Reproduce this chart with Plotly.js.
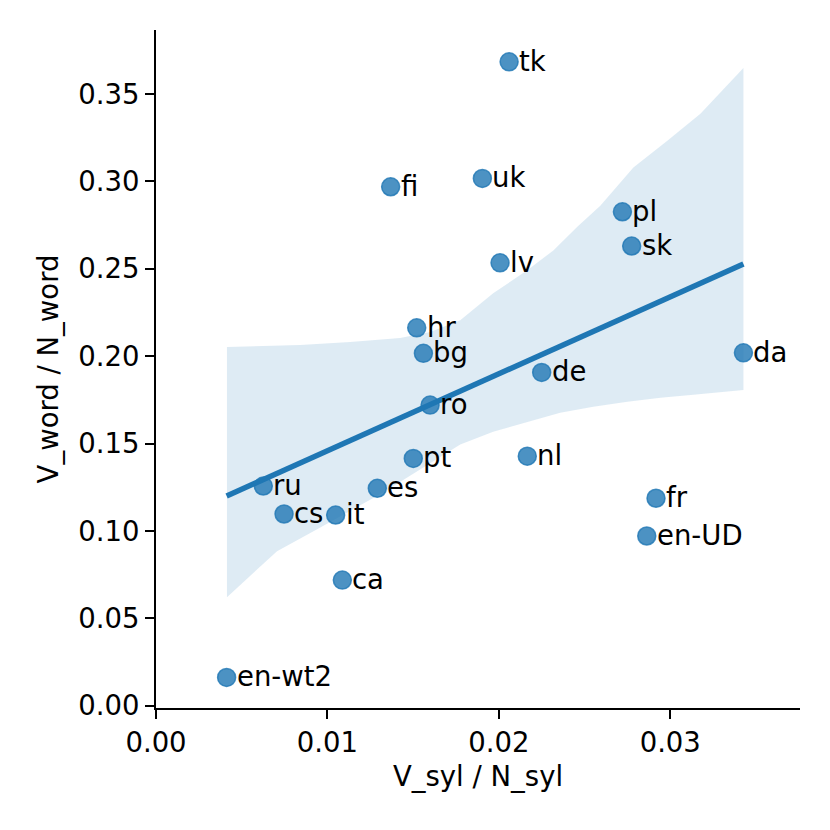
<!DOCTYPE html>
<html>
<head>
<meta charset="utf-8">
<script src="https://cdn.plot.ly/plotly-3.0.1.min.js"></script>
<style>
  html, body { margin: 0; padding: 0; background: #fff; }
  #chart { width: 830px; height: 830px; }
</style>
</head>
<body>
<div id="chart"></div>
<script>
// languages and their ratios
var langs = ['tk', 'uk', 'fi', 'pl', 'sk', 'lv', 'hr', 'bg', 'da', 'de', 'ro',
             'pt', 'nl', 'ru', 'es', 'cs', 'it', 'ca', 'en-wt2', 'fr', 'en-UD'];
var vSyl = [0.02060, 0.01904, 0.01369, 0.02721, 0.02775, 0.02007, 0.01521, 0.01560,
            0.03427, 0.02250, 0.01599, 0.01501, 0.02166, 0.00626, 0.01291, 0.00747,
            0.01048, 0.01087, 0.00412, 0.02917, 0.02863];
var vWord = [0.3684, 0.3017, 0.2969, 0.2826, 0.2630, 0.2534, 0.2162, 0.2016,
             0.2019, 0.1907, 0.1720, 0.1415, 0.1428, 0.1257, 0.1244, 0.1097,
             0.1091, 0.0719, 0.0162, 0.1187, 0.0971];

// confidence band edges
var ciUpX = [0.00414, 0.00841, 0.01133, 0.01424, 0.01600, 0.01775, 0.01967, 0.02166,
             0.02318, 0.02458, 0.02592, 0.02785, 0.02983, 0.03176, 0.03427];
var ciUpY = [0.2052, 0.2064, 0.2081, 0.2104, 0.2138, 0.2206, 0.2360, 0.2491,
             0.2605, 0.2740, 0.2860, 0.3079, 0.3233, 0.3387, 0.3649];
var ciLoX = [0.00414, 0.00706, 0.00940, 0.01325, 0.01775, 0.01967, 0.02166, 0.02358,
             0.02551, 0.02750, 0.02943, 0.03135, 0.03427];
var ciLoY = [0.0621, 0.0884, 0.1009, 0.1220, 0.1494, 0.1568, 0.1625, 0.1676,
             0.1710, 0.1739, 0.1762, 0.1779, 0.1807];

var xTicks = [0.00, 0.01, 0.02, 0.03];
var yTicks = [0.00, 0.05, 0.10, 0.15, 0.20, 0.25, 0.30, 0.35];

// least squares fit
function fit(xs, ys) {
  var n = xs.length, mx = 0, my = 0;
  for (var i = 0; i < n; i++) { mx += xs[i]; my += ys[i]; }
  mx /= n; my /= n;
  var sxy = 0, sxx = 0;
  for (var i = 0; i < n; i++) {
    sxy += (xs[i] - mx) * (ys[i] - my);
    sxx += (xs[i] - mx) * (xs[i] - mx);
  }
  var b = sxy / sxx;
  return { a: my - b * mx, b: b };
}
var f = fit(vSyl, vWord);
var xmin = Math.min.apply(null, vSyl), xmax = Math.max.apply(null, vSyl);

var blue = '#1f77b4';
var font = 'DejaVu Sans, sans-serif';
var fs = 27.5;

var band = {
  x: ciUpX.concat(ciLoX.slice().reverse()),
  y: ciUpY.concat(ciLoY.slice().reverse()),
  mode: 'lines', fill: 'toself', fillcolor: 'rgba(31,119,180,0.15)',
  line: { width: 0 }, hoverinfo: 'skip'
};
var pts = {
  x: vSyl, y: vWord, mode: 'markers', type: 'scatter',
  marker: { size: 18, color: 'rgba(31,119,180,0.8)',
            line: { color: 'rgba(31,119,180,0.8)', width: 1.5 } }
};
var reg = {
  x: [xmin, xmax], y: [f.a + f.b * xmin, f.a + f.b * xmax],
  mode: 'lines', line: { color: blue, width: 5.5 }
};

var notes = langs.map(function (l, i) {
  return {
    x: vSyl[i], y: vWord[i], text: l, showarrow: false,
    xanchor: 'left', yanchor: 'middle', xshift: 8, yshift: 1,
    font: { family: font, size: fs, color: '#000' }
  };
});

var axisCommon = {
  showline: true, linecolor: '#000', linewidth: 2,
  ticks: 'outside', ticklen: 9, tickwidth: 2, tickcolor: '#000',
  showgrid: false, zeroline: false,
  tickfont: { family: font, size: fs, color: '#000' }
};

var layout = {
  width: 830, height: 830,
  margin: { l: 156, r: 30, t: 30, b: 122 },
  showlegend: false,
  paper_bgcolor: '#fff', plot_bgcolor: '#fff',
  annotations: notes,
  xaxis: Object.assign({}, axisCommon, {
    range: [0, 0.03757], tickvals: xTicks,
    ticktext: xTicks.map(function (v) { return v.toFixed(2); }),
    title: { text: 'V_syl / N_syl', font: { family: font, size: fs, color: '#000' }, standoff: 10 }
  }),
  yaxis: Object.assign({}, axisCommon, {
    range: [-0.0013, 0.3866], tickvals: yTicks,
    ticktext: yTicks.map(function (v) { return v.toFixed(2); }),
    title: { text: 'V_word / N_word', font: { family: font, size: fs, color: '#000' }, standoff: 12 }
  })
};

Plotly.newPlot('chart', [band, pts, reg], layout, { staticPlot: true });
</script>
</body>
</html>
